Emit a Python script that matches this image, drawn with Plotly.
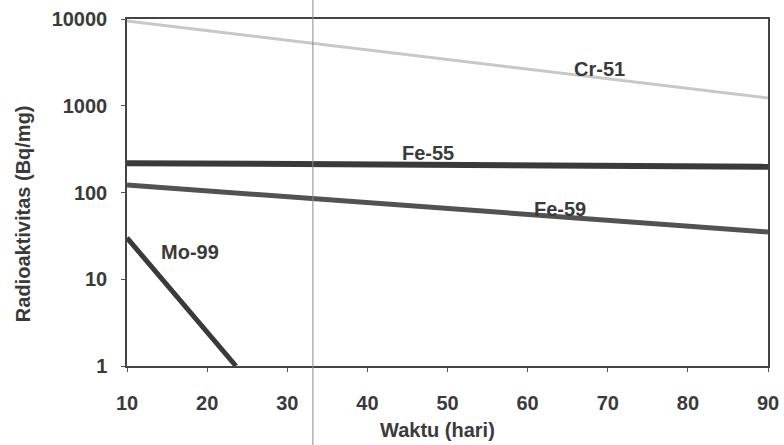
import plotly.graph_objects as go

# Data (Waktu in hari, radioaktivitas in Bq/mg)
cr51_x = [10, 90]
cr51_y = [9500, 1230]
fe55_x = [10, 90]
fe55_y = [218, 198]
fe59_x = [10, 90]
fe59_y = [122, 35]
mo99_x = [10, 23.6]
mo99_y = [30, 1]

x_ticks = [10, 20, 30, 40, 50, 60, 70, 80, 90]
y_ticks = [1, 10, 100, 1000, 10000]
y_tick_labels = ["1", "10", "100", "1000", "10000"]

series = [
    ("Cr-51", cr51_x, cr51_y, "#c8c8c8", 3),
    ("Fe-55", fe55_x, fe55_y, "#3a3a3a", 6),
    ("Fe-59", fe59_x, fe59_y, "#525252", 5),
    ("Mo-99", mo99_x, mo99_y, "#3a3a3a", 5),
]

labels = [
    ("Cr-51", 69.0, 3.42),
    ("Fe-55", 47.6, 2.46),
    ("Fe-59", 64.1, 1.81),
    ("Mo-99", 17.9, 1.31),
]

font_family = "Liberation Sans, Arial, sans-serif"
txt_color = "#3a3a3a"
fs = 20

fig = go.Figure()
for name, xs, ys, color, w in series:
    fig.add_trace(go.Scatter(x=xs, y=ys, mode="lines", name=name,
                             line=dict(color=color, width=w), showlegend=False,
                             cliponaxis=True))

for text, lx, ly in labels:
    fig.add_annotation(x=lx, y=ly, xref="x", yref="y", text="<b>" + text + "</b>",
                       showarrow=False, font=dict(family=font_family, size=fs, color=txt_color))

# axis titles
fig.add_annotation(x=-0.162, y=0.438, xref="paper", yref="paper", text="<b>Radioaktivitas (Bq/mg)</b>",
                   textangle=-90, showarrow=False, xanchor="center", yanchor="middle",
                   font=dict(family=font_family, size=fs, color=txt_color))
fig.add_annotation(x=0.485, y=-0.184, xref="paper", yref="paper", text="<b>Waktu (hari)</b>",
                   showarrow=False, xanchor="center", yanchor="middle",
                   font=dict(family=font_family, size=fs, color=txt_color))

# thin vertical scan line across the page
fig.add_shape(type="line", xref="x", yref="paper", x0=33.2, x1=33.2, y0=-0.23, y1=1.06,
              line=dict(color="#8a8a8a", width=1))

tickfont = dict(size=fs, family=font_family, color=txt_color, weight="bold")

fig.update_layout(
    width=784, height=445,
    margin=dict(l=127, r=16, t=19, b=79),
    paper_bgcolor="white", plot_bgcolor="white",
    font=dict(family=font_family, color=txt_color),
    xaxis=dict(range=[10, 90], tickvals=x_ticks, ticks="outside", ticklen=4,
               tickcolor="#555", showline=True, linecolor="#444", linewidth=1.5,
               mirror=True, showgrid=False, zeroline=False, automargin=False,
               tickfont=tickfont, ticklabelstandoff=14),
    yaxis=dict(type="log", range=[0, 4], tickvals=y_ticks, ticktext=y_tick_labels,
               ticks="outside", ticklen=4, tickcolor="#555", showline=True, linecolor="#444",
               linewidth=1.5, mirror=True, showgrid=False, zeroline=False, automargin=False,
               tickfont=tickfont, ticklabelstandoff=10),
)

# remove the default 8px page margin so the figure fills the window exactly
fig.write_html("out.html", config={"displayModeBar": False},
               post_script="document.body.style.margin='0';document.body.style.overflow='hidden';")
